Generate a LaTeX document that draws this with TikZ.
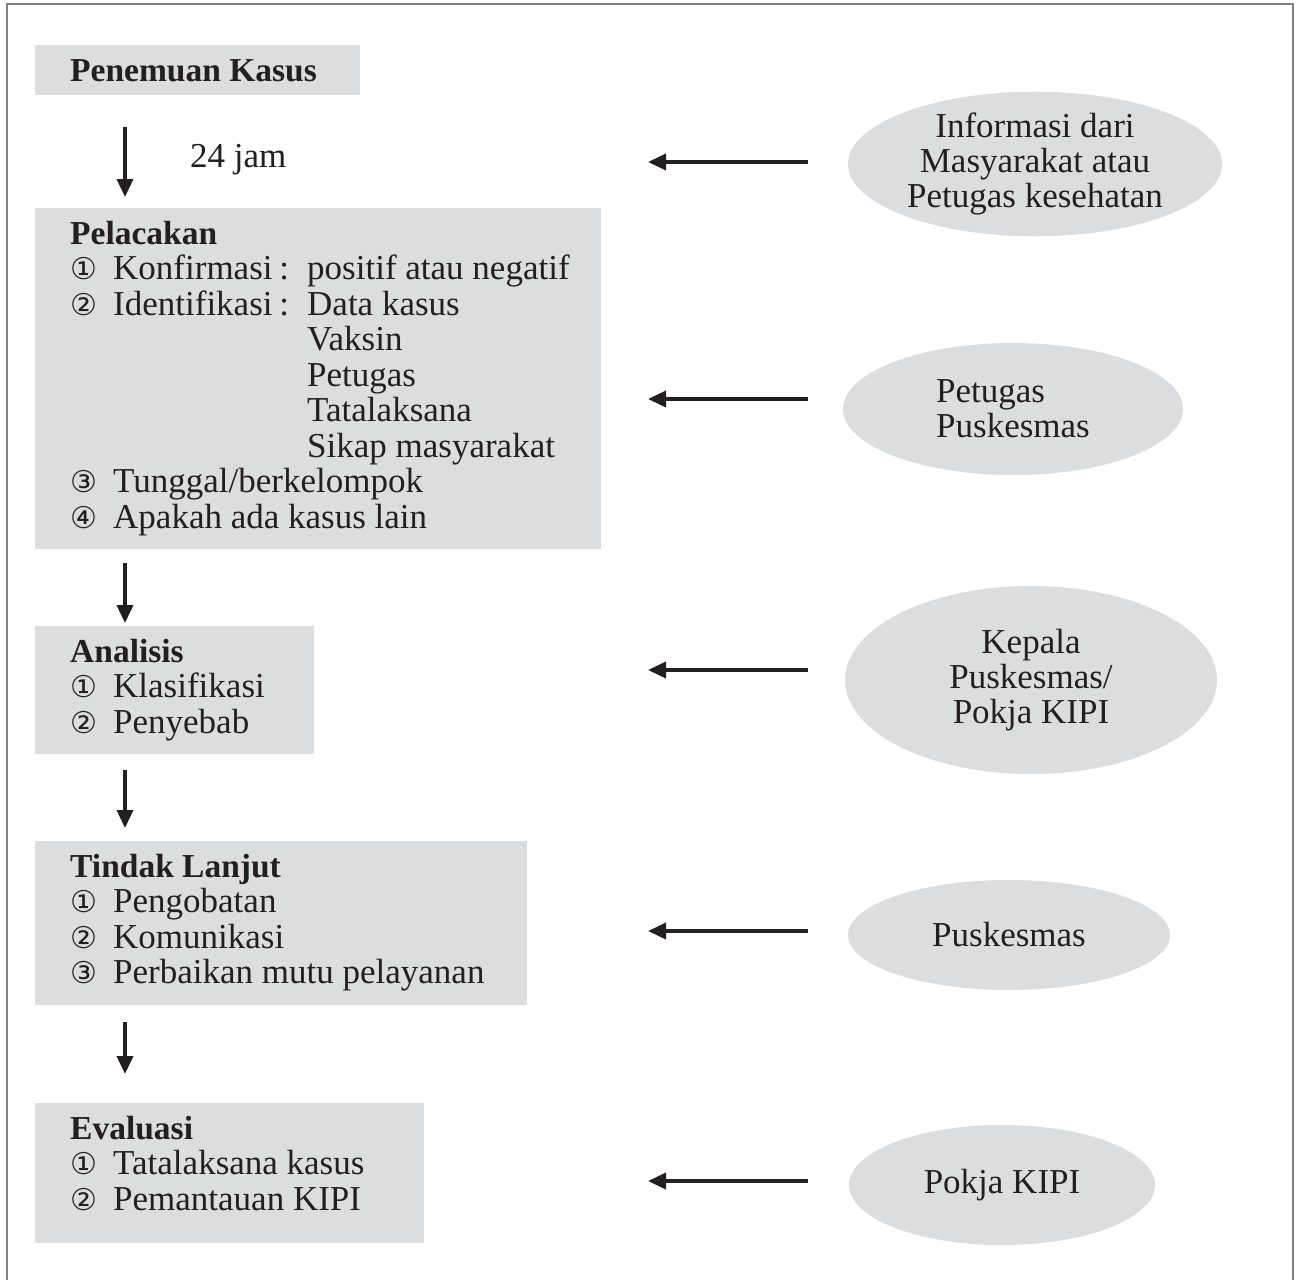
\documentclass[tikz,border=0pt]{standalone}
\usepackage{fontspec}
\setmainfont{Liberation Serif}
\newfontfamily\symf{DejaVu Sans}
\usetikzlibrary{arrows.meta,shapes.geometric}
\definecolor{boxgray}{HTML}{DCDDDF}
\definecolor{ink}{HTML}{231F20}
\definecolor{framegray}{HTML}{808080}
\newcommand\cnum[1]{\makebox[43pt][l]{{\symf\fontsize{30}{30}\selectfont #1}}}
\newcommand\lbl[1]{\makebox[176pt][l]{#1\hfill:}\hspace{18pt}}
\newcommand\hd[1]{{\fontsize{33.5}{35.5}\selectfont\bfseries #1}}
\begin{document}
\begin{tikzpicture}[x=1pt,y=-1pt,
  every node/.style={text=ink},
  boxnode/.style={fill=boxgray, draw=none, anchor=north west, inner sep=0pt},
  txt/.style={anchor=north west, inner sep=0pt, align=left, font=\fontsize{35}{35.5}\selectfont},
  oval/.style={ellipse, fill=boxgray, inner sep=0pt, font=\fontsize{35}{35}\selectfont},
  arr/.style={draw=ink, fill=ink, line width=3.6pt, -{Triangle[width=16pt,length=18pt]}},
]
\useasboundingbox (0,0) rectangle (1297,1280);
\fill[white] (0,0) rectangle (1297,1280);
\draw[framegray, line width=2pt] (7,1280) -- (7,4) -- (1293,4) -- (1293,1280);

% boxes
\node[boxnode, minimum width=325pt, minimum height=50pt] (b1) at (35,45) {};
\node[boxnode, minimum width=566pt, minimum height=341pt] (b2) at (35,208) {};
\node[boxnode, minimum width=279pt, minimum height=128pt] (b3) at (35,626) {};
\node[boxnode, minimum width=492pt, minimum height=164pt] (b4) at (35,841) {};
\node[boxnode, minimum width=389pt, minimum height=140pt] (b5) at (35,1103) {};

% box texts
\node[txt] (t1) at ([xshift=35pt,yshift=-11.15pt]b1.north west) {\strut\hd{Penemuan Kasus}};
\node[txt] (t2) at ([xshift=35pt,yshift=-11.15pt]b2.north west) {\strut\hd{Pelacakan}\\
\cnum{①}\lbl{Konfirmasi}positif atau negatif\\
\cnum{②}\lbl{Identifikasi}Data kasus\\
\hspace*{237pt}Vaksin\\
\hspace*{237pt}Petugas\\
\hspace*{237pt}Tatalaksana\\
\hspace*{237pt}Sikap masyarakat\\
\cnum{③}Tunggal/berkelompok\\
\cnum{④}Apakah ada kasus lain};
\node[txt] (t3) at ([xshift=35pt,yshift=-11.15pt]b3.north west) {\strut\hd{Analisis}\\
\cnum{①}Klasifikasi\\
\cnum{②}Penyebab};
\node[txt] (t4) at ([xshift=35pt,yshift=-11.15pt]b4.north west) {\strut\hd{Tindak Lanjut}\\
\cnum{①}Pengobatan\\
\cnum{②}Komunikasi\\
\cnum{③}Perbaikan mutu pelayanan};
\node[txt] (t5) at ([xshift=35pt,yshift=-11.15pt]b5.north west) {\strut\hd{Evaluasi}\\
\cnum{①}Tatalaksana kasus\\
\cnum{②}Pemantauan KIPI};

\node[anchor=base west, inner sep=0pt, font=\fontsize{35}{35.5}\selectfont] (j24) at (190,167) {24 jam};

% ellipses
\node[oval, minimum width=374pt, minimum height=138pt, align=center] (e1) at (1035,164) {Informasi dari\\Masyarakat atau\\Petugas kesehatan};
\node[oval, minimum width=340pt, minimum height=132pt, align=left] (e2) at (1013,409) {Petugas\\Puskesmas};
\node[oval, minimum width=372pt, minimum height=188pt, align=center] (e3) at (1031,680) {Kepala\\Puskesmas/\\Pokja KIPI};
\node[oval, minimum width=322pt, minimum height=110pt] (e4) at (1009,935) {Puskesmas};
\node[oval, minimum width=306pt, minimum height=120pt] (e5) at (1002,1185) {Pokja KIPI};

% vertical arrows
\coordinate (ax) at (125,0);
\draw[arr, shorten <=32pt, shorten >=11pt] (b1.south -| ax) -- (b2.north -| ax);
\draw[arr, shorten <=14pt, shorten >=3pt] (b2.south -| ax) -- (b3.north -| ax);
\draw[arr, shorten <=16pt, shorten >=13pt] (b3.south -| ax) -- (b4.north -| ax);
\draw[arr, shorten <=17pt, shorten >=29pt] (b4.south -| ax) -- (b5.north -| ax);

% horizontal arrows
\coordinate (h1) at (648,162);
\coordinate (h2) at (648,399);
\coordinate (h3) at (648,670);
\coordinate (h4) at (648,931);
\coordinate (h5) at (648,1181);
\draw[arr, shorten <=40pt] (h1 -| e1.west) -- (h1);
\draw[arr, shorten <=35pt] (h2 -| e2.west) -- (h2);
\draw[arr, shorten <=37pt] (h3 -| e3.west) -- (h3);
\draw[arr, shorten <=40pt] (h4 -| e4.west) -- (h4);
\draw[arr, shorten <=41pt] (h5 -| e5.west) -- (h5);
\end{tikzpicture}
\end{document}
